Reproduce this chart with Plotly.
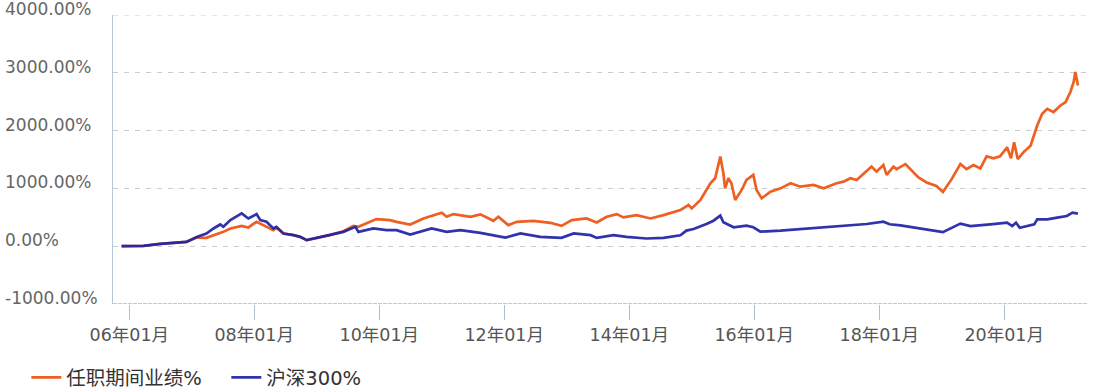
import plotly.graph_objects as go

# ---- data ----
fund_dates = ["2005-11-17", "2006-03-25", "2006-07-01", "2006-10-05", "2006-12-01", "2007-01-30",
              "2007-03-28", "2007-07-05", "2007-08-15", "2007-10-20", "2007-11-28", "2008-01-15",
              "2008-02-25", "2008-04-22", "2008-05-10", "2008-06-20", "2008-08-18", "2008-09-27",
              "2008-11-03", "2009-02-10", "2009-03-20", "2009-06-05", "2009-08-03", "2009-09-01",
              "2009-12-15", "2010-03-05", "2010-04-12", "2010-07-01", "2010-09-16", "2011-01-01",
              "2011-01-30", "2011-03-10", "2011-06-18", "2011-08-15", "2011-10-30", "2011-11-28",
              "2012-01-25", "2012-03-15", "2012-06-20", "2012-09-27", "2012-12-01", "2013-01-30",
              "2013-04-27", "2013-06-25", "2013-08-22", "2013-10-20", "2013-11-28", "2014-02-13",
              "2014-05-05", "2014-07-20", "2014-10-27", "2014-12-13", "2015-01-01", "2015-02-21",
              "2015-04-20", "2015-05-18", "2015-06-17", "2015-07-05", "2015-07-15", "2015-08-03",
              "2015-08-21", "2015-09-12", "2015-10-20", "2015-11-17", "2015-12-27", "2016-01-15",
              "2016-02-14", "2016-04-05", "2016-06-03", "2016-08-01", "2016-09-27", "2016-12-13",
              "2017-02-10", "2017-04-27", "2017-06-06", "2017-07-16", "2017-08-22", "2017-11-17",
              "2017-12-16", "2018-01-25", "2018-02-13", "2018-03-25", "2018-04-12", "2018-06-03",
              "2018-07-20", "2018-08-18", "2018-10-05", "2018-12-01", "2019-01-08", "2019-02-28",
              "2019-04-20", "2019-05-26", "2019-07-05", "2019-08-15", "2019-09-20", "2019-10-30",
              "2019-12-08", "2020-01-18", "2020-02-10", "2020-02-28", "2020-03-20", "2020-04-22",
              "2020-06-03", "2020-07-12", "2020-08-10", "2020-09-09", "2020-10-15", "2020-11-25",
              "2020-12-25", "2021-01-22", "2021-02-10", "2021-02-20", "2021-03-07"]
fund_values = [0, 5, 40, 57, 75, 150,
               144, 248, 307, 352, 324, 422,
               365, 278, 320, 220, 191, 160,
               104, 162, 191, 260, 352, 335,
               469, 451, 422, 376, 480, 579,
               509, 555, 509, 550, 439, 509,
               365, 422, 439, 405, 352, 451,
               480, 411, 509, 555, 498, 538,
               480, 538, 625, 712, 654, 799,
               1088, 1175, 1550, 1261, 1001, 1175,
               1088, 799, 973, 1146, 1233, 973,
               828, 943, 1001, 1088, 1030, 1059,
               1001, 1088, 1117, 1175, 1146, 1377,
               1290, 1406, 1233, 1377, 1334, 1421,
               1276, 1189, 1102, 1043, 939, 1160,
               1421, 1334, 1403, 1346, 1555, 1520,
               1555, 1711, 1520, 1798, 1508, 1624,
               1739, 2087, 2290, 2377, 2320, 2435,
               2494, 2668, 2841, 3015, 2782]

index_dates = ["2005-11-17", "2006-03-25", "2006-07-01", "2006-10-05", "2006-12-01", "2007-01-30",
               "2007-03-28", "2007-05-08", "2007-06-17", "2007-07-05", "2007-08-15", "2007-10-20",
               "2007-11-28", "2008-01-15", "2008-02-06", "2008-03-13", "2008-04-22", "2008-05-10",
               "2008-06-20", "2008-08-18", "2008-09-27", "2008-11-03", "2009-01-01", "2009-03-20",
               "2009-06-05", "2009-08-15", "2009-09-01", "2009-11-28", "2010-02-13", "2010-04-12",
               "2010-07-01", "2010-11-03", "2011-01-30", "2011-04-20", "2011-08-15", "2012-01-08",
               "2012-04-05", "2012-07-30", "2012-12-01", "2013-02-10", "2013-05-20", "2013-06-25",
               "2013-10-01", "2013-12-16", "2014-04-12", "2014-07-20", "2014-10-27", "2014-12-01",
               "2015-01-12", "2015-03-28", "2015-05-08", "2015-06-17", "2015-07-05", "2015-09-03",
               "2015-11-17", "2015-12-27", "2016-02-06", "2016-06-03", "2016-12-13", "2017-06-25",
               "2017-10-20", "2018-01-25", "2018-03-03", "2018-05-05", "2018-08-08", "2018-11-10",
               "2019-01-08", "2019-04-20", "2019-06-18", "2019-10-12", "2020-01-18", "2020-02-17",
               "2020-03-10", "2020-04-01", "2020-06-25", "2020-07-12", "2020-09-09", "2020-11-06",
               "2021-01-01", "2021-02-03", "2021-03-07"]
index_values = [0, 5, 40, 57, 75, 160,
                220, 307, 376, 335, 451, 567,
                480, 555, 451, 422, 307, 335,
                220, 191, 162, 104, 144, 191,
                248, 335, 248, 307, 278, 278,
                203, 307, 248, 278, 231, 150,
                220, 162, 144, 220, 191, 144,
                191, 162, 133, 144, 190, 270,
                298, 384, 441, 528, 414, 328,
                355, 328, 252, 269, 310, 355,
                384, 424, 380, 360, 320, 278,
                243, 390, 348, 377, 407, 348,
                407, 320, 377, 464, 464, 494,
                522, 581, 563]

series_names = ["任职期间业绩%", "沪深300%"]
y_ticks = [-1000, 0, 1000, 2000, 3000, 4000]
y_tick_labels = ["-1000.00%", "0.00%", "1000.00%", "2000.00%", "3000.00%", "4000.00%"]
x_ticks = ["2006-01-01", "2008-01-01", "2010-01-01", "2012-01-01",
           "2014-01-01", "2016-01-01", "2018-01-01", "2020-01-01"]
x_tick_labels = ["06年01月", "08年01月", "10年01月", "12年01月",
                 "14年01月", "16年01月", "18年01月", "20年01月"]

ORANGE = "#EE5F22"
BLUE = "#1F22A6"
FONT = "DejaVu Sans, Noto Sans CJK SC, sans-serif"

fig = go.Figure()
fig.add_trace(go.Scatter(x=fund_dates, y=fund_values, mode="lines", name=series_names[0],
                         line=dict(color=ORANGE, width=2.7)))
fig.add_trace(go.Scatter(x=index_dates, y=index_values, mode="lines", name=series_names[1],
                         line=dict(color=BLUE, width=2.7), opacity=0.92))

annotations = []
for v, t in zip(y_ticks, y_tick_labels):
    annotations.append(dict(x=-0.113, xref="paper", y=v, yref="y", text=t, showarrow=False,
                            xanchor="left", yanchor="middle", yshift=6,
                            font=dict(family=FONT, size=17, color="#666666")))

fig.update_layout(
    width=1108, height=392,
    margin=dict(l=113, r=21, t=15, b=88, autoexpand=False),
    paper_bgcolor="white", plot_bgcolor="white",
    font=dict(family=FONT),
    xaxis=dict(
        type="date", range=["2005-09-28", "2021-04-29"],
        tickmode="array", tickvals=x_ticks, ticktext=x_tick_labels,
        ticks="outside", ticklen=15, tickcolor="#a9bfd3", tickwidth=1,
        tickfont=dict(family=FONT, size=17.5, color="#555555"),
        showgrid=False, zeroline=False, showline=False,
    ),
    yaxis=dict(
        range=[-1000, 4000], tickmode="array", tickvals=y_ticks,
        showticklabels=False, ticks="",
        showgrid=True, gridcolor="#c9cdd2", gridwidth=1, griddash="5px,6px",
        zeroline=False, showline=True, linecolor="#b5c8da", linewidth=1.2,
    ),
    shapes=[dict(type="line", xref="paper", x0=0, x1=1, yref="y", y0=-1000, y1=-1000,
                 line=dict(color="#9fbad3", width=1.3, dash="4px,1px"), layer="below"),
            dict(type="line", xref="paper", x0=0, x1=1, yref="y", y0=4000, y1=4000,
                 line=dict(color="#c9cdd2", width=1, dash="5px,6px"), layer="below")],
    annotations=annotations,
    showlegend=True,
    legend=dict(orientation="h", x=-0.089, xanchor="left", y=-0.255, yanchor="middle",
                font=dict(family=FONT, size=19.5, color="#333333"),
                itemwidth=30, entrywidth=155, bgcolor="rgba(0,0,0,0)"),
)

fig.write_html("out.html", config={"displayModeBar": False},
               post_script="document.body.style.margin='0';document.body.style.padding='0';")
